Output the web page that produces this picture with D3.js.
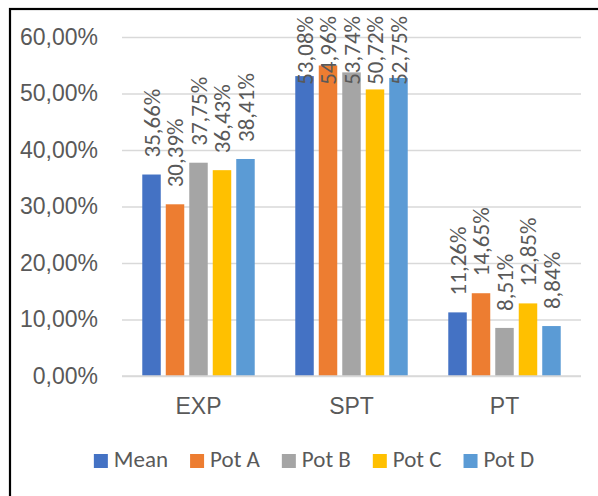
<!DOCTYPE html>
<html>
<head>
<meta charset="utf-8">
<script src="https://cdn.jsdelivr.net/npm/d3@7"></script>
<style>
  html, body { margin: 0; padding: 0; background: #fff; }
  svg { display: block; font-family: Carlito, Lato, "Liberation Sans", sans-serif; }
</style>
</head>
<body>
<svg id="chart" width="598" height="496"></svg>
<script>
// Share of time per phase, by pot
const categories = ["EXP", "SPT", "PT"];
const seriesNames = ["Mean", "Pot A", "Pot B", "Pot C", "Pot D"];
const mean = [35.66, 53.08, 11.26];
const potA = [30.39, 54.96, 14.65];
const potB = [37.75, 53.74, 8.51];
const potC = [36.43, 50.72, 12.85];
const potD = [38.41, 52.75, 8.84];
const seriesValues = [mean, potA, potB, potC, potD];
const colors = ["#4472C4", "#ED7D31", "#A5A5A5", "#FFC000", "#5B9BD5"];
const yTicks = [0, 10, 20, 30, 40, 50, 60];

const svg = d3.select("#chart");
const textColor = "#595959";
const fontSize = 23;

// chart frame (left and top edges visible)
svg.append("rect")
  .attr("x", 10).attr("y", 9)
  .attr("width", 620).attr("height", 520)
  .attr("fill", "none").attr("stroke", "#000").attr("stroke-width", 2.2);

const plot = { left: 122, right: 581, top: 37, bottom: 376 };
const labelTopLimit = 16;

const y = d3.scaleLinear().domain([0, 60]).range([plot.bottom, plot.top]);
const x0 = d3.scaleBand().domain(categories)
  .range([plot.left, plot.right]).paddingInner(0.265).paddingOuter(0.1325);
const x1 = d3.scaleBand().domain(seriesNames)
  .range([0, x0.bandwidth()]).paddingInner(0.213).paddingOuter(0);

const fmt = v => d3.format(".2f")(v).replace(".", ",") + "%";

// gridlines and value axis labels
const yAxis = d3.axisLeft(y).tickValues(yTicks).tickSize(-(plot.right - plot.left))
  .tickPadding(24).tickFormat(fmt);
const gy = svg.append("g").attr("transform", `translate(${plot.left},0)`).call(yAxis);
gy.select(".domain").remove();
gy.selectAll(".tick line").attr("stroke", "#D9D9D9").attr("stroke-width", 1.5);
gy.selectAll(".tick text").attr("fill", textColor).attr("font-size", fontSize)
  .attr("font-family", null);

// bars
const groups = svg.append("g").selectAll("g")
  .data(categories).join("g")
  .attr("transform", c => `translate(${x0(c)},0)`);

groups.selectAll("rect")
  .data((c, ci) => seriesNames.map((s, si) => ({ s, v: seriesValues[si][ci], color: colors[si] })))
  .join("rect")
  .attr("x", d => x1(d.s))
  .attr("width", x1.bandwidth())
  .attr("y", d => y(d.v))
  .attr("height", d => y(0) - y(d.v))
  .attr("fill", d => d.color);

// value labels, rotated; pushed down so they stay inside the chart area
groups.selectAll("text.val")
  .data((c, ci) => seriesNames.map((s, si) => ({ s, v: seriesValues[si][ci] })))
  .join("text")
  .attr("class", "val")
  .attr("dy", "0.36em")
  .attr("text-anchor", "start")
  .attr("fill", textColor)
  .attr("font-size", fontSize)
  .text(d => fmt(d.v))
  .each(function (d) {
    const len = this.getComputedTextLength();
    const start = Math.max(y(d.v) - 17, labelTopLimit + len);
    d3.select(this).attr("transform",
      `translate(${x1(d.s) + x1.bandwidth() / 2},${start}) rotate(-90)`);
  });

// category axis
const xAxis = d3.axisBottom(x0).tickSize(0).tickPadding(22);
const gx = svg.append("g").attr("transform", `translate(0,${plot.bottom})`).call(xAxis);
gx.select(".domain").attr("stroke", "#D9D9D9").attr("stroke-width", 1.5)
  .attr("d", `M${plot.left},0H${plot.right}`);
gx.selectAll(".tick text").attr("fill", textColor).attr("font-size", fontSize)
  .attr("font-family", null);

// legend
const legend = svg.append("g");
const items = legend.selectAll("g").data(seriesNames).join("g");
items.append("rect").attr("width", 14).attr("height", 14).attr("y", -13)
  .attr("fill", (d, i) => colors[i]);
items.append("text").attr("x", 20).attr("y", 0)
  .attr("fill", textColor).attr("font-size", fontSize).text(d => d);
let xpos = 0;
items.each(function () {
  const g = d3.select(this);
  g.attr("transform", `translate(${xpos},0)`);
  xpos += 20 + g.select("text").node().getComputedTextLength() + 22;
});
const legendWidth = xpos - 22;
legend.attr("transform", `translate(${314 - legendWidth / 2},467)`);
</script>
</body>
</html>
